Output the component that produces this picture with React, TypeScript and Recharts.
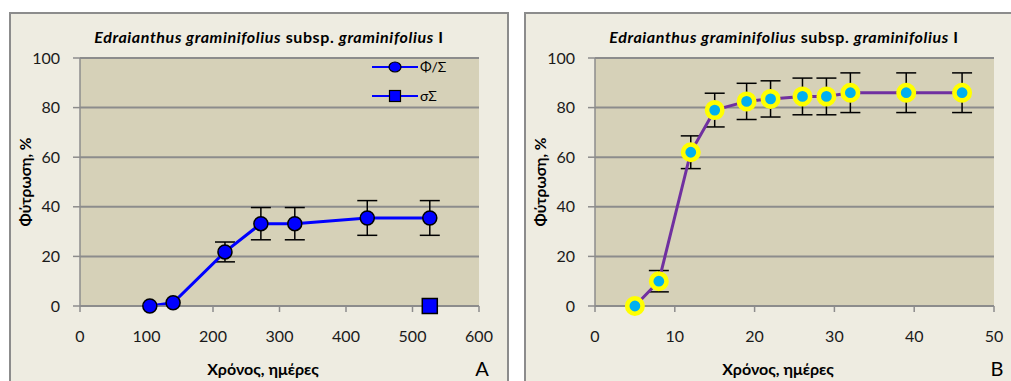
import React from "react";
import { LineChart, Line, XAxis, YAxis, CartesianGrid, ErrorBar } from "recharts";

// Panel A
const daysA = [105, 140, 218, 272, 323, 432, 526];
const germA = [0, 1.3, 21.8, 33.2, 33.2, 35.5, 35.5];
const errA = [0, 0, 4, 6.5, 6.5, 7, 7];
const sigmaDays = [526];
const sigmaVals = [0];
const xTicksA = [0, 100, 200, 300, 400, 500, 600];

// Panel B
const daysB = [5, 8, 12, 15, 19, 22, 26, 29, 32, 39, 46];
const germB = [0, 10, 62, 79, 82.5, 83.5, 84.5, 84.5, 86, 86, 86];
const errB = [0, 4.3, 6.6, 6.8, 7.3, 7.3, 7.4, 7.4, 8, 8, 8];
const xTicksB = [0, 10, 20, 30, 40, 50];

const yTicks = [0, 20, 40, 60, 80, 100];

const dataA = daysA.map((d, i) => ({ x: d, y: germA[i], err: errA[i] }));
const dataSigma = sigmaDays.map((d, i) => ({ x: d, s: sigmaVals[i] }));
const dataB = daysB.map((d, i) => ({ x: d, y: germB[i], err: errB[i] }));

const FONT = "Lato, 'Open Sans', sans-serif";
const GRID = "#8c8c8c";
const PLOT_BG = "#D6D1B8";
const PANEL_BG = "#EEECE1";

const CircleDot = (props: any) => {
  const { cx, cy } = props;
  if (cx == null || cy == null) return null;
  return <circle cx={cx} cy={cy} r={7} fill="#0000FF" stroke="#000" strokeWidth={1.5} />;
};
const SquareDot = (props: any) => {
  const { cx, cy } = props;
  if (cx == null || cy == null) return null;
  return <rect x={cx - 7.5} y={cy - 7.5} width={15} height={15} fill="#0000FF" stroke="#000" strokeWidth={1.5} />;
};
const RingDot = (props: any) => {
  const { cx, cy } = props;
  if (cx == null || cy == null) return null;
  return <circle cx={cx} cy={cy} r={7.7} fill="#00B0F0" stroke="#FFFF00" strokeWidth={4.6} />;
};

const Title = () => (
  <div
    style={{
      position: "absolute",
      left: 0,
      width: 516,
      top: 13,
      textAlign: "center",
      fontFamily: FONT,
      fontWeight: 700,
      fontSize: 16,
      letterSpacing: 0.6,
      color: "#000",
      whiteSpace: "nowrap",
    }}
  >
    <i>Edraianthus graminifolius</i> subsp. <i>graminifolius</i> I
  </div>
);

const YLabel = () => (
  <div
    style={{
      position: "absolute",
      left: 14,
      top: 168,
      transform: "translate(-50%, -50%) rotate(-90deg)",
      fontFamily: FONT,
      fontWeight: 700,
      fontSize: 15.5,
      whiteSpace: "nowrap",
      color: "#000",
    }}
  >
    Φύτρωση, %
  </div>
);

const XLabel = ({ letter }: { letter: string }) => (
  <>
    <div
      style={{
        position: "absolute",
        left: 252,
        top: 354,
        transform: "translate(-50%, -50%)",
        fontFamily: FONT,
        fontWeight: 700,
        fontSize: 16,
        whiteSpace: "nowrap",
        color: "#000",
      }}
    >
      Χρόνος, ημέρες
    </div>
    <div
      style={{
        position: "absolute",
        left: 471,
        top: 354,
        transform: "translate(-50%, -50%)",
        fontFamily: FONT,
        fontSize: 20,
        color: "#000",
      }}
    >
      {letter}
    </div>
  </>
);

const LegendA = () => (
  <div style={{ position: "absolute", left: 361, top: 44, fontFamily: FONT, fontSize: 14, color: "#000" }}>
    <svg width={46} height={60} style={{ position: "absolute", left: 0, top: 0 }}>
      <line x1={0} x2={46} y1={9} y2={9} stroke="#0000FF" strokeWidth={2} />
      <ellipse cx={23} cy={9} rx={6} ry={5} fill="#0000FF" stroke="#000" strokeWidth={1.2} />
      <line x1={0} x2={46} y1={38} y2={38} stroke="#0000FF" strokeWidth={2} />
      <rect x={17.5} y={32.5} width={11} height={11} fill="#0000FF" stroke="#000" strokeWidth={1.2} />
    </svg>
    <div style={{ position: "absolute", left: 48, top: 0, lineHeight: "18px", whiteSpace: "nowrap" }}>Φ/Σ</div>
    <div style={{ position: "absolute", left: 48, top: 29, lineHeight: "18px", whiteSpace: "nowrap" }}>σΣ</div>
  </div>
);

const tickStyle = { fill: "#1a1a1a", fontSize: 16, fontFamily: FONT };

const Panel = ({ left, children }: { left: number; children: React.ReactNode }) => (
  <div
    style={{
      position: "absolute",
      left,
      top: 12,
      width: 500,
      height: 380,
      boxSizing: "border-box",
      border: `2px solid ${GRID}`,
      background: PANEL_BG,
    }}
  >
    {children}
  </div>
);

export default function App() {
  return (
    <div style={{ position: "absolute", left: 0, top: 0, width: 1011, height: 381, overflow: "hidden", background: "#fff" }}>
      <style>{`body{margin:0}`}</style>
      <Panel left={9}>
        <LineChart width={496} height={360} margin={{ top: 44, right: 28, left: 0, bottom: 38 }}>
          <CartesianGrid vertical={false} stroke={GRID} strokeWidth={2} fill={PLOT_BG} fillOpacity={1} />
          <XAxis
            type="number"
            dataKey="x"
            domain={[0, 600]}
            ticks={xTicksA}
            allowDataOverflow
            height={30}
            tickSize={6}
            tickMargin={19}
            tick={tickStyle}
            stroke={GRID}
            strokeWidth={1.5}
            interval={0}
          />
          <YAxis
            type="number"
            domain={[0, 100]}
            ticks={yTicks}
            width={69}
            tickSize={7}
            tickMargin={13}
            tick={tickStyle}
            stroke={GRID}
            strokeWidth={1.5}
            interval={0}
          />
          <Line
            data={dataA}
            dataKey="y"
            stroke="#0000FF"
            strokeWidth={3}
            dot={<CircleDot />}
            activeDot={false}
            isAnimationActive={false}
          >
            <ErrorBar dataKey="err" width={10} stroke="#000" strokeWidth={1.5} direction="y" />
          </Line>
          <Line
            data={dataSigma}
            dataKey="s"
            stroke="#0000FF"
            strokeWidth={3}
            dot={<SquareDot />}
            activeDot={false}
            isAnimationActive={false}
          />
        </LineChart>
        <Title />
        <YLabel />
        <XLabel letter="A" />
        <LegendA />
      </Panel>
      <Panel left={524}>
        <LineChart width={496} height={360} margin={{ top: 44, right: 28, left: 0, bottom: 38 }}>
          <CartesianGrid vertical={false} stroke={GRID} strokeWidth={2} fill={PLOT_BG} fillOpacity={1} />
          <XAxis
            type="number"
            dataKey="x"
            domain={[0, 50]}
            ticks={xTicksB}
            allowDataOverflow
            height={30}
            tickSize={6}
            tickMargin={19}
            tick={tickStyle}
            stroke={GRID}
            strokeWidth={1.5}
            interval={0}
          />
          <YAxis
            type="number"
            domain={[0, 100]}
            ticks={yTicks}
            width={69}
            tickSize={7}
            tickMargin={13}
            tick={tickStyle}
            stroke={GRID}
            strokeWidth={1.5}
            interval={0}
          />
          <Line
            data={dataB}
            dataKey="y"
            stroke="#7030A0"
            strokeWidth={3}
            dot={<RingDot />}
            activeDot={false}
            isAnimationActive={false}
          >
            <ErrorBar dataKey="err" width={10} stroke="#000" strokeWidth={1.5} direction="y" />
          </Line>
        </LineChart>
        <Title />
        <YLabel />
        <XLabel letter="B" />
      </Panel>
    </div>
  );
}
